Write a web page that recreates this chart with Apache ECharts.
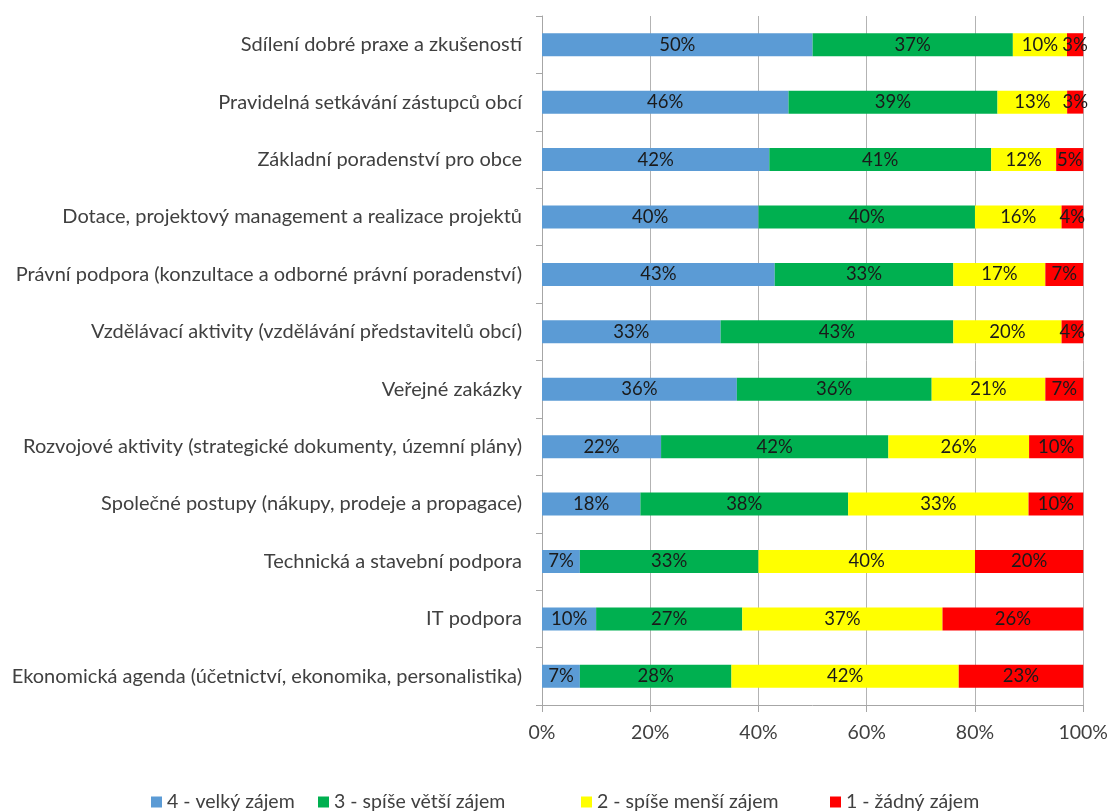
<!DOCTYPE html>
<html>
<head>
<meta charset="utf-8">
<script src="https://cdn.jsdelivr.net/npm/echarts@6/dist/echarts.min.js"></script>
<style>
  html, body { margin: 0; padding: 0; background: #fff; }
  #chart { width: 1111px; height: 811px; }
</style>
</head>
<body>
<div id="chart"></div>
<script>
// Survey: interest in services for municipalities (share of answers per topic)
const categories = [
  'Sdílení dobré praxe a zkušeností',
  'Pravidelná setkávání zástupců obcí',
  'Základní poradenství pro obce',
  'Dotace, projektový management a realizace projektů',
  'Právní podpora (konzultace a odborné právní poradenství)',
  'Vzdělávací aktivity (vzdělávání představitelů obcí)',
  'Veřejné zakázky',
  'Rozvojové aktivity (strategické dokumenty, územní plány)',
  'Společné postupy (nákupy, prodeje a propagace)',
  'Technická a stavební podpora',
  'IT podpora',
  'Ekonomická agenda (účetnictví, ekonomika, personalistika)'
];

const seriesNames = ['4 - velký zájem', '3 - spíše větší zájem', '2 - spíše menší zájem', '1 - žádný zájem'];
const seriesColors = ['#5b9bd5', '#00b050', '#ffff00', '#ff0000'];

// Percent of respondents, per category (same order as categories)
const velkyZajem    = [50, 46, 42, 40, 43, 33, 36, 22, 18,  7, 10,  7];
const spiseVetsi    = [37, 39, 41, 40, 33, 43, 36, 42, 38, 33, 27, 28];
const spiseMensi    = [10, 13, 12, 16, 17, 20, 21, 26, 33, 40, 37, 42];
const zadnyZajem    = [ 3,  3,  5,  4,  7,  4,  7, 10, 10, 20, 26, 23];

const xTicks = [0, 20, 40, 60, 80, 100];

const rawSeries = [velkyZajem, spiseVetsi, spiseMensi, zadnyZajem];

// 100 % stacked bars: each row is scaled to its own total
const rowTotals = categories.map((_, i) => rawSeries.reduce((s, arr) => s + arr[i], 0));

const FONT = 'Lato';
const textColor = '#404040';

const chart = echarts.init(document.getElementById('chart'), null, { renderer: 'canvas' });

const legendLefts = [151, 318, 581, 830];

chart.setOption({
  backgroundColor: '#ffffff',
  animation: false,
  textStyle: { fontFamily: FONT },
  grid: { left: 542, right: 27, top: 16, bottom: 106, containLabel: false },
  legend: seriesNames.map((name, k) => ({
    data: [name],
    left: legendLefts[k],
    top: 792,
    padding: 0,
    itemWidth: 11,
    itemHeight: 11,
    itemGap: 0,
    icon: 'rect',
    textStyle: { fontFamily: FONT, fontSize: 19.5, color: textColor },
    selectedMode: false
  })),
  xAxis: {
    type: 'value',
    min: 0,
    max: 100,
    interval: 20,
    axisLine: { show: true, lineStyle: { color: '#a6a6a6', width: 1 } },
    axisTick: { show: true, length: 7, lineStyle: { color: '#a6a6a6' } },
    axisLabel: {
      formatter: v => xTicks.includes(v) ? v + '%' : '',
      fontFamily: FONT, fontSize: 19.5, color: textColor, margin: 18
    },
    splitLine: { show: true, lineStyle: { color: '#b3b3b3', width: 1 } }
  },
  yAxis: {
    type: 'category',
    inverse: true,
    data: categories,
    axisLine: { show: true, lineStyle: { color: '#a6a6a6', width: 1 } },
    axisTick: { show: true, length: 6, lineStyle: { color: '#a6a6a6' } },
    axisLabel: { fontFamily: FONT, fontSize: 20, color: textColor, margin: 20 },
    splitLine: { show: false }
  },
  series: rawSeries.map((arr, k) => ({
    name: seriesNames[k],
    type: 'bar',
    stack: 'total',
    barWidth: 23,
    itemStyle: { color: seriesColors[k] },
    label: {
      show: true,
      position: 'inside',
      fontFamily: FONT,
      fontSize: 18.5,
      color: '#1a1a1a',
      formatter: p => arr[p.dataIndex] + '%'
    },
    data: arr.map((v, i) => v / rowTotals[i] * 100)
  }))
});
</script>
</body>
</html>
